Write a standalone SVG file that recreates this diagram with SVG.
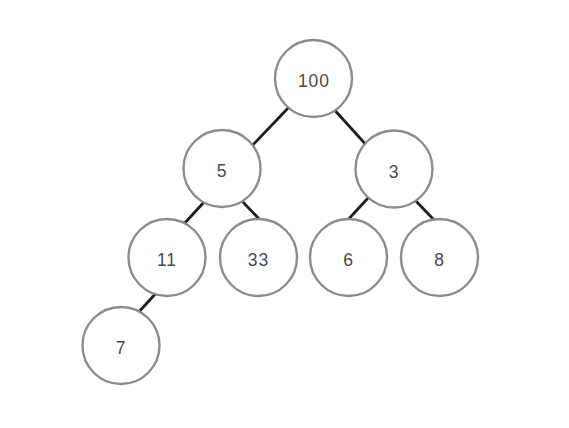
<svg xmlns="http://www.w3.org/2000/svg" width="569" height="428" viewBox="0 0 569 428">
<style>
.edge{stroke:#1e1e1e;stroke-width:2.8;stroke-linecap:butt}
.node circle{fill:#fff;stroke:#8c8c8c;stroke-width:2.4}
.node text{font-family:"Liberation Sans",Arial,sans-serif;font-size:17.5px;letter-spacing:1px;fill:#4a4a4a;text-anchor:middle;dominant-baseline:central}
</style>
<rect width="569" height="428" fill="#fff"/>
<g id="connectors">
<line class="edge" x1="291" y1="105" x2="249" y2="149"/>
<line class="edge" x1="330" y1="105" x2="369" y2="148"/>
<line class="edge" x1="205" y1="201" x2="183" y2="225"/>
<line class="edge" x1="241" y1="200" x2="262" y2="222"/>
<line class="edge" x1="368" y1="198" x2="345" y2="223"/>
<line class="edge" x1="414" y1="199" x2="436" y2="222"/>
<line class="edge" x1="158" y1="291" x2="136" y2="315"/>
</g>
<g id="n100" class="node"><circle cx="313.5" cy="78.5" r="38.5"/><text x="314" y="81">100</text></g>
<g id="n5" class="node"><circle cx="222" cy="168.5" r="38.5"/><text x="222" y="171">5</text></g>
<g id="n3" class="node"><circle cx="394" cy="169" r="38.5"/><text x="394" y="171.5">3</text></g>
<g id="n11" class="node"><circle cx="167" cy="257.5" r="38.5"/><text x="167" y="259.5">11</text></g>
<g id="n33" class="node"><circle cx="258.5" cy="257.5" r="38.5"/><text x="258.5" y="259.5">33</text></g>
<g id="n6" class="node"><circle cx="348.5" cy="257.5" r="38.5"/><text x="348.5" y="259.5">6</text></g>
<g id="n8" class="node"><circle cx="439.5" cy="257.5" r="38.5"/><text x="439.5" y="259.5">8</text></g>
<g id="n7" class="node"><circle cx="121" cy="345.5" r="38.5"/><text x="121" y="348">7</text></g>
</svg>
